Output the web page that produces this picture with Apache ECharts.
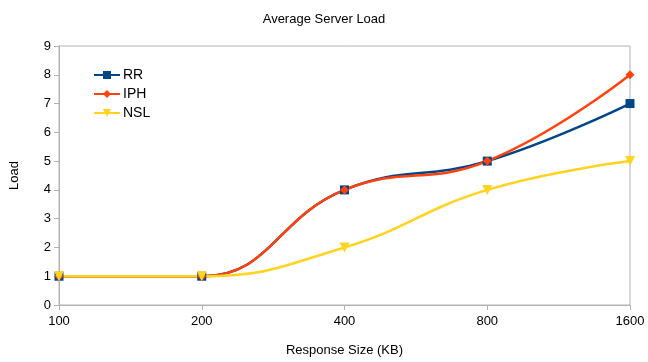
<!DOCTYPE html>
<html><head><meta charset="utf-8">
<script src="https://cdn.jsdelivr.net/npm/echarts@6/dist/echarts.min.js"></script>
<style>html,body{margin:0;padding:0;background:#fff}#c{width:648px;height:362px}</style>
</head><body><div id="c"></div>
<script>
const categories = ['100', '200', '400', '800', '1600'];
const rr = [1, 1, 4, 5, 7];
const iph = [1, 1, 4, 5, 8];
const nsl = [1, 1, 2, 4, 5];
const yTicks = [0, 9, 1];

const font = 'Liberation Sans';
const chart = echarts.init(document.getElementById('c'));
const mk = (name, data, color, symbol, size, rot) => ({
  name, type: 'line', data, smooth: 0.45, symbol, symbolSize: size, symbolRotate: rot || 0,
  showAllSymbol: true,
  lineStyle: { color, width: 2.5 }, itemStyle: { color }
});
chart.setOption({
  animation: false,
  title: { text: 'Average Server Load', left: 'center', top: 8,
    textStyle: { fontFamily: font, fontSize: 13, fontWeight: 'normal', color: '#000' } },
  legend: { left: 88, top: 63, orient: 'vertical', itemWidth: 26, itemHeight: 10, itemGap: 5,
    textStyle: { fontFamily: font, fontSize: 14, color: '#000', padding: [0, 0, 0, -2] },
    data: ['RR', 'IPH', 'NSL'] },
  grid: { left: 58, right: 18, top: 46, bottom: 53, show: true, borderColor: '#b3b3b3', borderWidth: 1 },
  xAxis: { type: 'category', data: categories, boundaryGap: false,
    name: 'Response Size (KB)', nameLocation: 'middle', nameGap: 39,
    nameTextStyle: { fontFamily: font, fontSize: 13, color: '#000' },
    axisLine: { lineStyle: { color: '#b3b3b3' } },
    axisTick: { show: true, length: 5, lineStyle: { color: '#b3b3b3' } },
    axisLabel: { fontFamily: font, fontSize: 13, color: '#000', margin: 10 },
    splitLine: { show: false } },
  yAxis: { type: 'value', min: yTicks[0], max: yTicks[1], interval: yTicks[2],
    name: 'Load', nameLocation: 'middle', nameGap: 38,
    nameTextStyle: { fontFamily: font, fontSize: 13, color: '#000' },
    axisLine: { show: true, lineStyle: { color: '#b3b3b3' } },
    axisTick: { show: true, length: 5, lineStyle: { color: '#b3b3b3' } },
    axisLabel: { fontFamily: font, fontSize: 13, color: '#000', margin: 8 },
    splitLine: { show: false } },
  series: [
    mk('RR', rr, '#004586', 'rect', 9),
    mk('IPH', iph, '#ff420e', 'diamond', 9),
    mk('NSL', nsl, '#ffd320', 'triangle', 10, 180)
  ]
});
</script></body></html>
